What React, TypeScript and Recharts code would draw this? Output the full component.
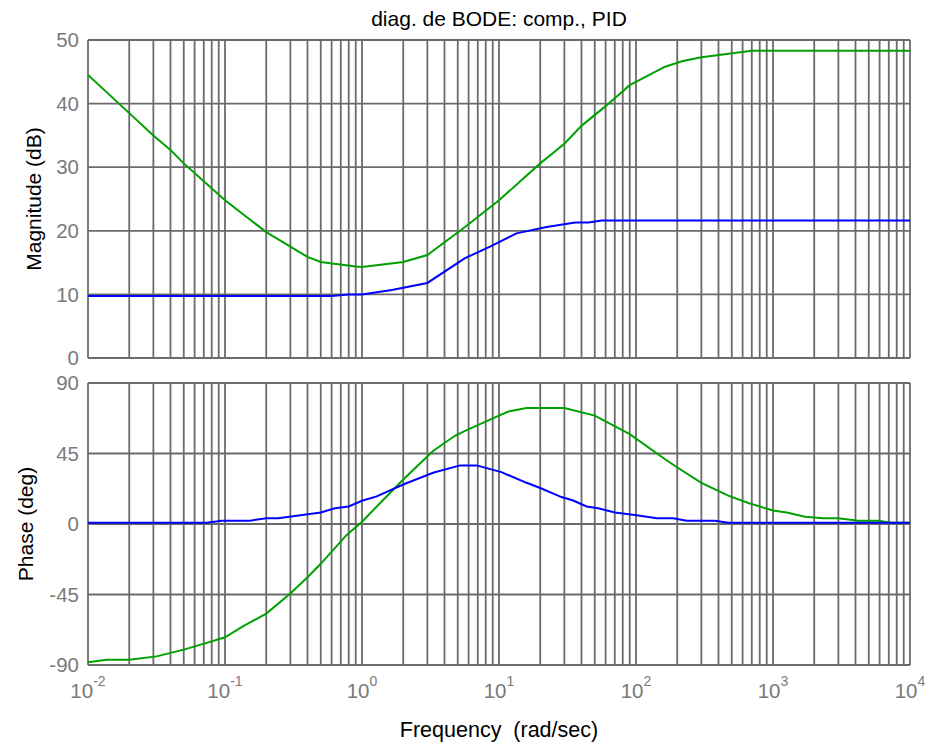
import { LineChart, Line, XAxis, YAxis, CartesianGrid } from "recharts"

const FONT = "'Liberation Sans', Arial, sans-serif"
const GRID = "#6b6b6b"
const TICK_GREY = "#7a7a7a"

// frequency grid (rad/sec): decades + minor lines 2..9
const decades = [0.01, 0.1, 1, 10, 100, 1000, 10000]
const minorSteps = [1, 2, 3, 4, 5, 6, 7, 8, 9]
const freqTicks = decades.slice(0, -1).flatMap((d) => minorSteps.map((m) => +(d * m).toPrecision(3))).concat([10000])

const magTicks = [0, 10, 20, 30, 40, 50]
const phaseTicks = [-90, -45, 0, 45, 90]

// magnitude, compensated (green)
const magGreenFreq = [0.01, 0.02, 0.03, 0.04, 0.05, 0.1, 0.2, 0.3, 0.4, 0.5, 0.9, 1, 2, 3, 5.65, 10, 20, 30, 40, 60, 90, 163, 220, 300, 700, 10000]
const magGreenDb = [44.5, 38.5, 35.0, 32.7, 30.6, 24.8, 19.8, 17.5, 15.9, 15.1, 14.4, 14.3, 15.1, 16.2, 20.6, 24.8, 30.6, 33.7, 36.5, 39.6, 42.9, 45.8, 46.7, 47.3, 48.3, 48.3]

// magnitude, PID (blue)
const magBlueFreq = [0.01, 0.6, 0.8, 1, 1.65, 3, 5.65, 8.6, 13.4, 22.3, 36, 45, 56, 10000]
const magBlueDb = [9.75, 9.75, 10.0, 10.0, 10.7, 11.8, 15.7, 17.5, 19.6, 20.6, 21.3, 21.3, 21.6, 21.6]

// phase, compensated (green)
const phaseGreenFreq = [0.01, 0.0137, 0.02, 0.0317, 0.05, 0.0735, 0.1, 0.136, 0.2, 0.3, 0.4, 0.5, 0.77, 1, 2, 3.3, 4.77, 5.65, 10, 11.7, 15.9, 30, 50, 90, 163, 193, 300, 472, 660, 1000, 1260, 1715, 2330, 3000, 4200, 5880, 7350, 10000]
const phaseGreenDeg = [-88.2, -86.7, -86.7, -84.5, -80.2, -75.9, -72.3, -65.2, -57.2, -44.3, -34, -25.4, -7.1, 1.5, 28.4, 46.6, 56.3, 59.5, 69.2, 71.8, 74, 74, 69.2, 57.4, 41.3, 37, 26.3, 18.1, 13.4, 8.6, 7.3, 4.7, 3.7, 3.7, 2.1, 2.1, 0.8, 0.8]

// phase, PID (blue)
const phaseBlueFreq = [0.01, 0.0735, 0.0946, 0.152, 0.2, 0.245, 0.5, 0.635, 0.8, 1, 1.28, 2, 3.3, 5.2, 6.87, 10.4, 15.9, 20, 28.6, 34.8, 43.6, 53, 70, 98, 142, 187, 234, 377, 472, 10000]
const phaseBlueDeg = [0.8, 0.8, 2.1, 2.1, 3.7, 3.7, 7.3, 10.1, 11.2, 14.8, 17.6, 25.2, 32.7, 37.4, 37.4, 33.1, 26.3, 23, 17.2, 15, 11.2, 10.1, 7.3, 5.8, 3.7, 3.7, 2.1, 2.1, 0.8, 0.8]

const zip = (fs: number[], vs: number[]) => fs.map((f, i) => ({ f, v: vs[i] }))

const magGreen = zip(magGreenFreq, magGreenDb)
const magBlue = zip(magBlueFreq, magBlueDb)
const phaseGreen = zip(phaseGreenFreq, phaseGreenDeg)
const phaseBlue = zip(phaseBlueFreq, phaseBlueDeg)

function DecadeTick(props: any) {
  const { x, y, payload } = props
  const lg = Math.log10(payload.value)
  const e = Math.round(lg)
  if (Math.abs(lg - e) > 1e-6) return <g />
  return (
    <text x={x} y={y + 25} textAnchor="middle" fill={TICK_GREY} fontFamily={FONT} fontSize={20.5}>
      10
      <tspan dy={-12} fontSize={14}>
        {e}
      </tspan>
    </text>
  )
}

const NoTick = () => <g />

function yTitle(text: string, cx: number) {
  return (props: any) => {
    const vb = props.viewBox || {}
    const cy = vb.y + vb.height / 2
    return (
      <text
        x={cx}
        y={cy}
        transform={`rotate(-90, ${cx}, ${cy})`}
        textAnchor="middle"
        dominantBaseline="central"
        fill="#000"
        fontFamily={FONT}
        fontSize={21}
      >
        {text}
      </text>
    )
  }
}

function xTitle(props: any) {
  const vb = props.viewBox || {}
  return (
    <text x={vb.x + vb.width / 2} y={vb.y + 72} textAnchor="middle" fill="#000" fontFamily={FONT} fontSize={21.5}>
      {"Frequency\u00a0 (rad/sec)"}
    </text>
  )
}

const yTick = { fill: TICK_GREY, fontSize: 20.5, fontFamily: FONT }

export default function App() {
  return (
    <div style={{ position: "absolute", left: 0, top: 0, width: 931, height: 746, background: "#fff", fontFamily: FONT }}>
      <div
        style={{
          position: "absolute",
          left: 88,
          top: 9,
          width: 822,
          textAlign: "center",
          fontSize: 21,
          lineHeight: "20px",
          color: "#000",
          whiteSpace: "nowrap",
        }}
      >
        diag. de BODE: comp., PID
      </div>

      <div style={{ position: "absolute", left: 0, top: 0 }}>
        <LineChart width={931} height={370} margin={{ top: 40, right: 21, bottom: 11, left: 0 }}>
          <CartesianGrid stroke={GRID} strokeWidth={1.8} />
          <XAxis
            type="number"
            dataKey="f"
            scale="log"
            domain={[0.01, 10000]}
            ticks={freqTicks}
            interval={0}
            allowDataOverflow
            tick={<NoTick />}
            tickLine={false}
            axisLine={false}
            height={1}
          />
          <YAxis
            type="number"
            domain={[0, 50]}
            ticks={magTicks}
            interval={0}
            width={88}
            tickLine={false}
            axisLine={false}
            tick={yTick}
            tickMargin={3}
            label={{ content: yTitle("Magnitude (dB)", 33) }}
          />
          <Line data={magGreen} dataKey="v" type="linear" stroke="#00a000" strokeWidth={2} dot={false} isAnimationActive={false} />
          <Line data={magBlue} dataKey="v" type="linear" stroke="#0000ff" strokeWidth={2} dot={false} isAnimationActive={false} />
        </LineChart>
      </div>

      <div style={{ position: "absolute", left: 0, top: 370 }}>
        <LineChart width={931} height={376} margin={{ top: 13, right: 21, bottom: 0, left: 0 }}>
          <CartesianGrid stroke={GRID} strokeWidth={1.8} />
          <XAxis
            type="number"
            dataKey="f"
            scale="log"
            domain={[0.01, 10000]}
            ticks={freqTicks}
            interval={0}
            allowDataOverflow
            tick={<DecadeTick />}
            tickLine={false}
            axisLine={false}
            height={81}
            label={{ content: xTitle }}
          />
          <YAxis
            type="number"
            domain={[-90, 90]}
            ticks={phaseTicks}
            interval={0}
            width={88}
            tickLine={false}
            axisLine={false}
            tick={yTick}
            tickMargin={3}
            label={{ content: yTitle("Phase (deg)", 25) }}
          />
          <Line data={phaseGreen} dataKey="v" type="linear" stroke="#00a000" strokeWidth={2} dot={false} isAnimationActive={false} />
          <Line data={phaseBlue} dataKey="v" type="linear" stroke="#0000ff" strokeWidth={2} dot={false} isAnimationActive={false} />
        </LineChart>
      </div>
    </div>
  )
}
